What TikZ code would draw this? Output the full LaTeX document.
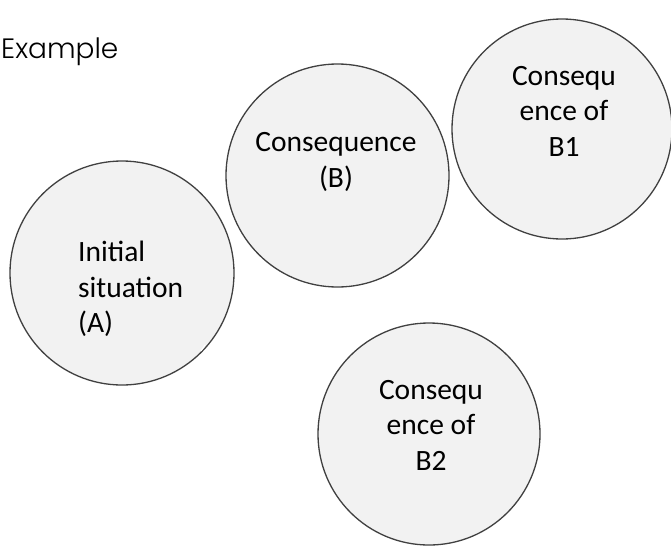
\documentclass[tikz,border=0pt]{standalone}
\usepackage{fontspec}
\setmainfont{Carlito}
\newfontfamily\exfont{Poppins Light}
\tikzset{
  bubble/.style={circle, draw=black!75, line width=1.3pt, fill=black!5, inner sep=0pt},
  btext/.style={font=\fontsize{29.5}{35.5}\selectfont, text=black, inner sep=0pt, align=center},
}
\begin{document}
\begin{tikzpicture}[x=1pt,y=-1pt]
\useasboundingbox (0,0) rectangle (671,552);
\fill[white] (0,0) rectangle (671,552);
\node[anchor=base west, inner sep=0pt, font=\exfont\fontsize{28}{32}\selectfont] (ex) at (1,58) {Example};
\node[bubble, minimum size=224pt] (A) at (122,273) {};
\node[bubble, minimum size=223pt] (B) at (337.5,175.5) {};
\node[bubble, minimum size=220pt] (B1) at (562,129) {};
\node[bubble, minimum size=222pt] (B2) at (429,434) {};
\node[btext, align=left, anchor=west] (At) at (78,289) {Initial\\situation\\(A)};
\node[btext] (Bt) at (336,162) {Consequence\\(B)};
\node[btext] (B1t) at (564,111) {Consequ\\ence of\\B1};
\node[btext] (B2t) at (431,425) {Consequ\\ence of\\B2};
\coordinate (g1) at (201,351);
\coordinate (g2) at (205,345);
\draw[white, line width=1pt] (g1) -- (g2);
\end{tikzpicture}
\end{document}
